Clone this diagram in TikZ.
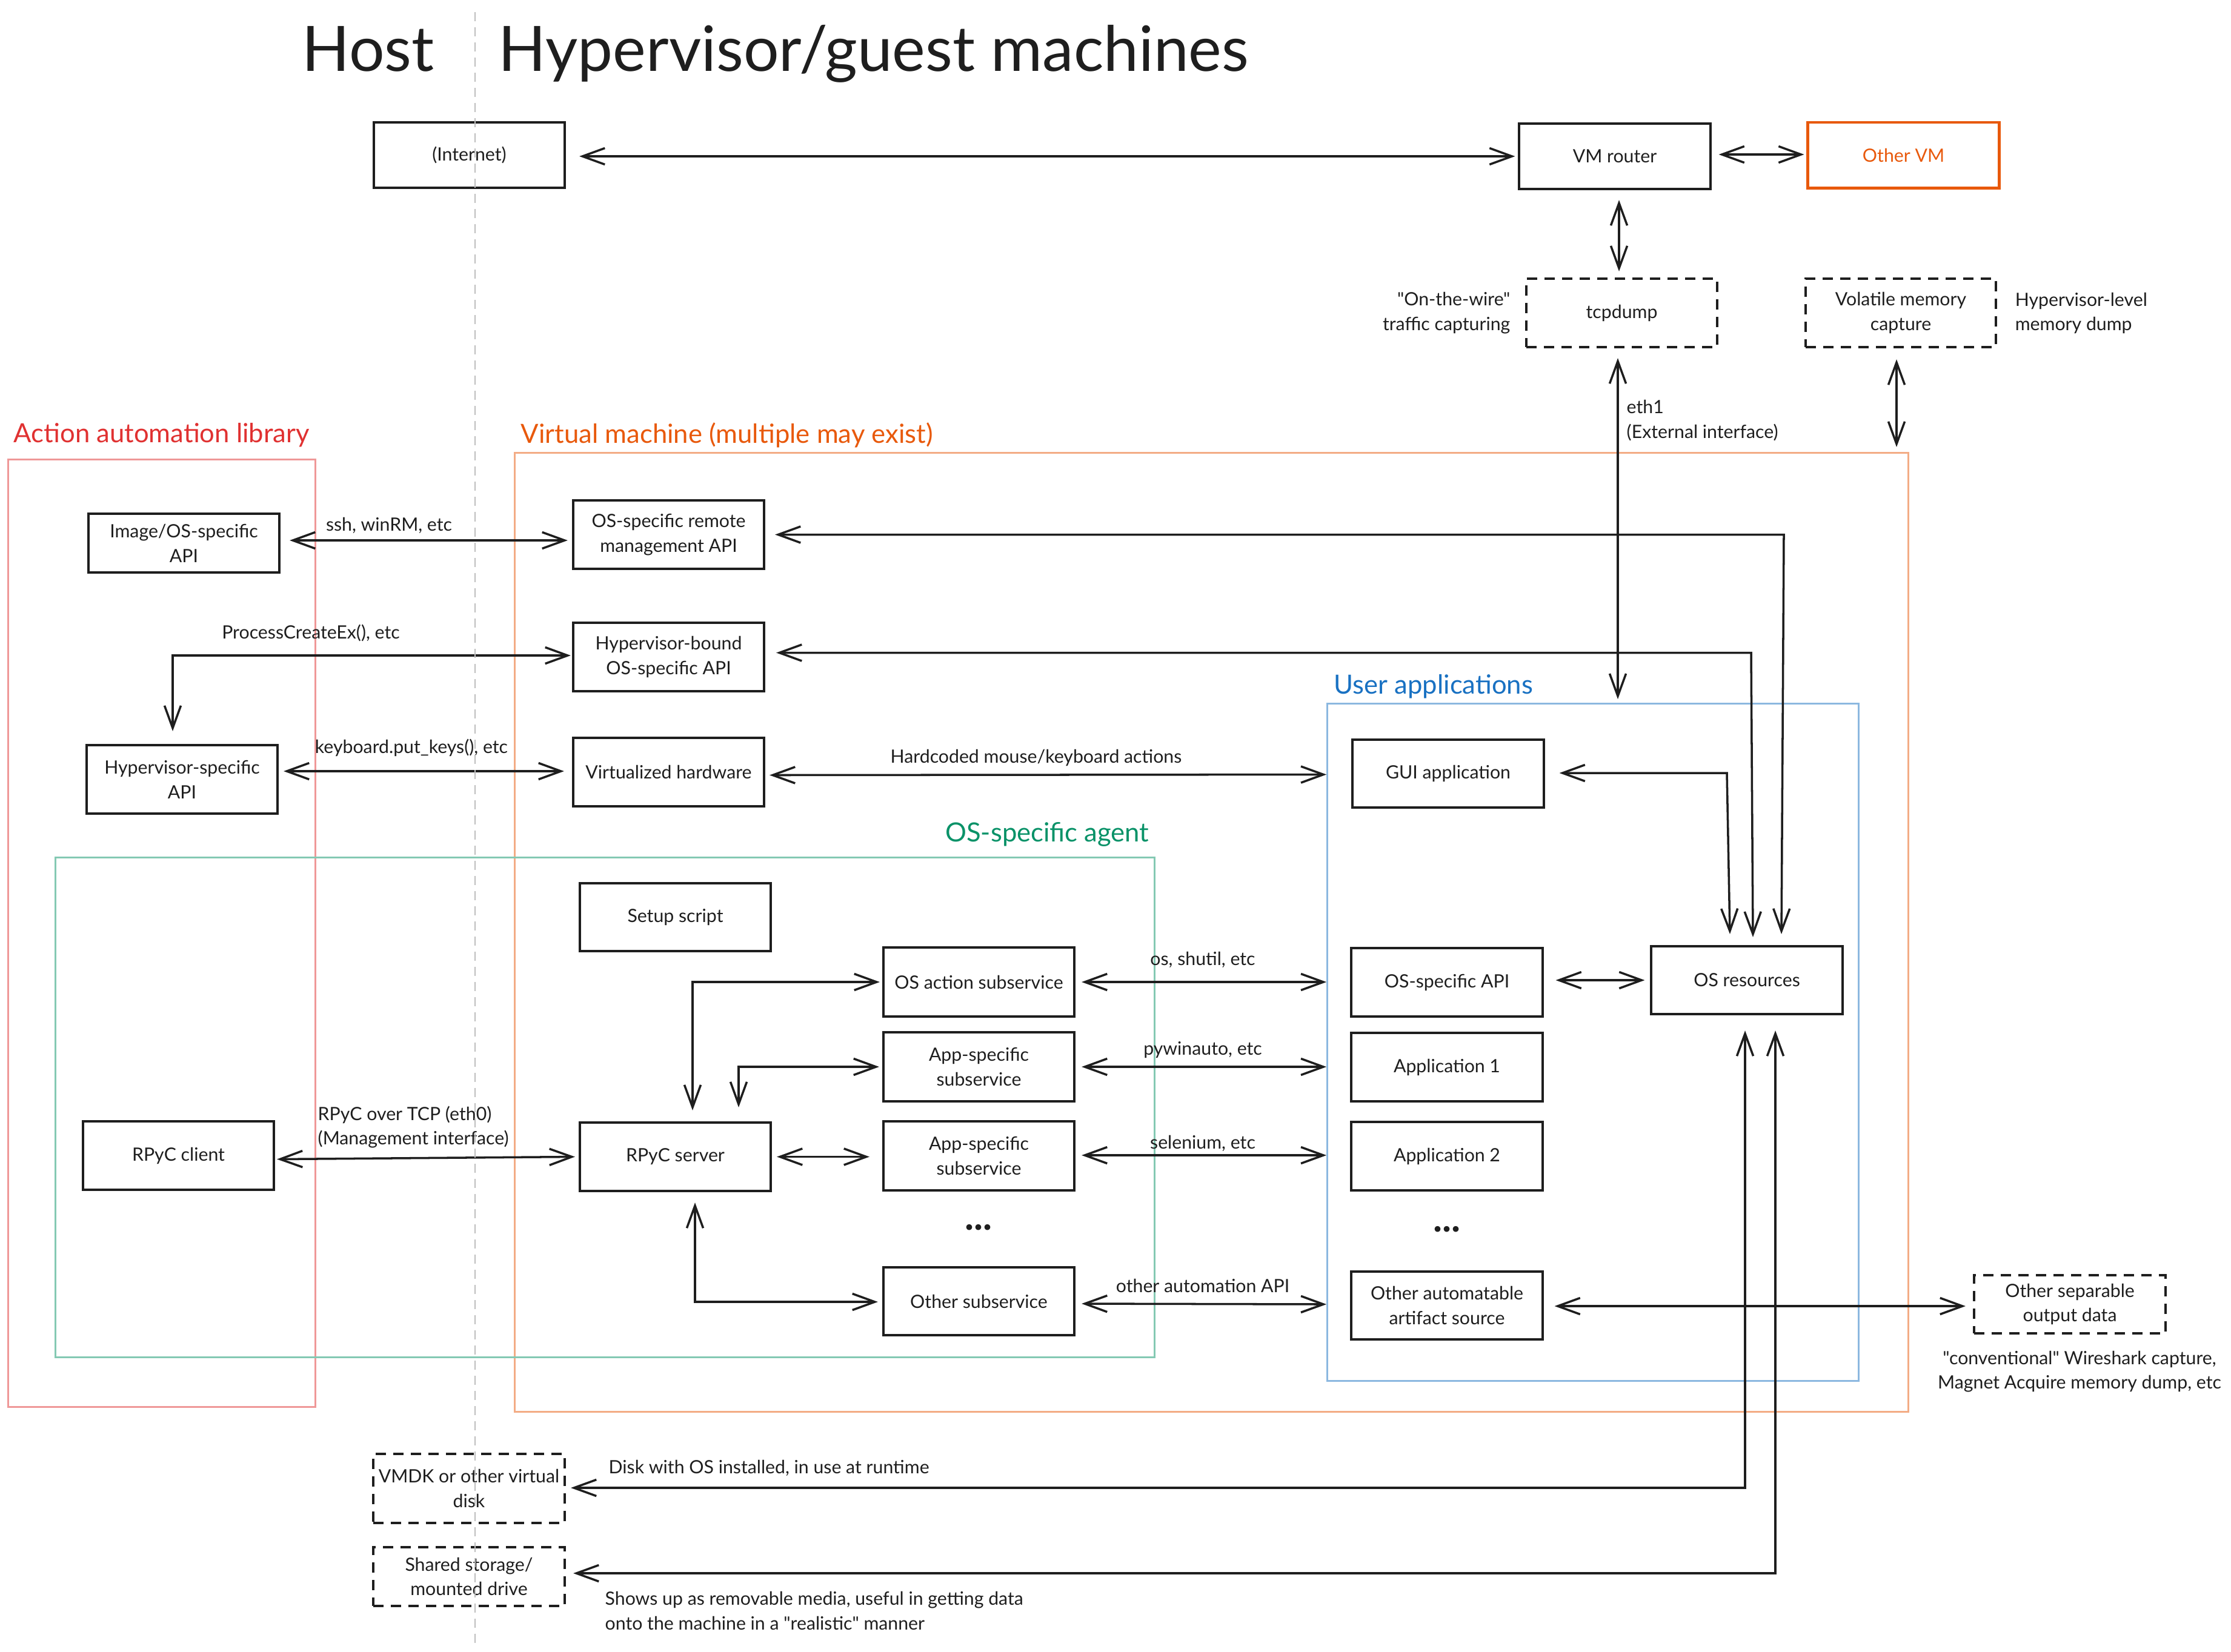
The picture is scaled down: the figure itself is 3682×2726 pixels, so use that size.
\documentclass[tikz,border=0pt]{standalone}
\usepackage{fontspec}
\setmainfont{Lato}[Ligatures=TeXOff]
\usetikzlibrary{arrows.meta,calc}
\definecolor{ink}{HTML}{1E1E1E}
\definecolor{cred}{HTML}{E03131}
\definecolor{corange}{HTML}{E8590C}
\definecolor{cblue}{HTML}{1971C2}
\definecolor{cgreen}{HTML}{099268}
\definecolor{cdivider}{HTML}{BDBDBD}
\newcommand\fbody{\fontsize{8.6pt}{11.6pt}\selectfont}
\newcommand\ftitle{\fontsize{12.4pt}{15pt}\selectfont}
\newcommand\fhead{\fontsize{29.4pt}{35pt}\selectfont}
\newcommand\fdots{\fontsize{18pt}{20pt}\selectfont\bfseries}
\tikzset{
  box/.style={draw=ink, line width=1.15pt, minimum width=3.15cm, minimum height=1.12cm, align=center, font=\fbody, text=ink, inner sep=0pt},
  dbox/.style={box, dash pattern=on 0.17cm off 0.12cm},
  note/.style={font=\fbody, text=ink, inner sep=0pt},
  ctitle/.style={font=\ftitle, inner sep=0pt},
  bi/.style={draw=ink, line width=1pt, {Straight Barb[length=0.37cm,width=0.27cm]}-{Straight Barb[length=0.37cm,width=0.27cm]}},
}
\begin{document}
\begin{tikzpicture}[x=0.01cm,y=-0.01cm]
\useasboundingbox (0,0) rectangle (3682,2726);

% containers
\node[draw=cred!50, line width=0.9pt, minimum width=5.06cm, minimum height=15.63cm, inner sep=0pt] (aal) at (267,1540.5) {};
\node[draw=corange!50, line width=0.9pt, minimum width=22.99cm, minimum height=15.82cm, inner sep=0pt] (vm) at (1999.5,1539) {};
\node[draw=cgreen!50, line width=0.9pt, minimum width=18.13cm, minimum height=8.24cm, inner sep=0pt] (agent) at (998.5,1828) {};
\node[draw=cblue!50, line width=0.9pt, minimum width=8.76cm, minimum height=11.17cm, inner sep=0pt] (uapps) at (2629,1720.5) {};

% container titles
\node[ctitle, text=cred, anchor=west] (taal) at (22,718) {Action automation library};
\node[ctitle, text=corange, anchor=west] (tvm) at (859,718) {Virtual machine (multiple may exist)};
\node[ctitle, text=cblue, anchor=west] (tuapps) at (2201,1133) {User applications};
\node[ctitle, text=cgreen, anchor=east] (tagent) at (1897,1377) {OS-specific agent};

% headings
\node[font=\fhead, text=ink, anchor=base west, inner sep=0pt] (host) at (498,117) {Host};
\node[font=\fhead, text=ink, anchor=base west, inner sep=0pt] (hyp) at (822,117) {Hypervisor/guest machines};

% top row
\node[box, minimum height=1.08cm] (internet) at (774.5,256) {(Internet)};
\node[box, minimum height=1.08cm] (vmr) at (2665,258) {VM router};
\node[box, minimum height=1.08cm, draw=corange, text=corange, line width=1.4pt] (othervm) at (3141.5,256) {Other VM};
\node[dbox, minimum height=1.13cm] (tcp) at (2676.5,516.5) {tcpdump};
\node[dbox, minimum height=1.13cm, minimum width=3.14cm] (vol) at (3137,516.5) {Volatile memory\\capture};
\node[note, anchor=east, align=right] (wire) at (2493,517) {"On-the-wire"\\traffic capturing};
\node[note, anchor=west, align=left] (hvl) at (3325,517) {Hypervisor-level\\memory dump};

% left column
\node[box, minimum height=0.97cm] (imgapi) at (303.5,896.5) {Image/OS-specific\\API};
\node[box, minimum height=1.13cm] (hvapi) at (300.5,1286.5) {Hypervisor-specific\\API};
\node[box, minimum height=1.13cm] (client) at (294.5,1907.5) {RPyC client};

% VM column
\node[box, minimum height=1.13cm] (remote) at (1103.5,882.5) {OS-specific remote\\management API};
\node[box, minimum height=1.13cm] (hvbound) at (1103.5,1084.5) {Hypervisor-bound\\OS-specific API};
\node[box, minimum height=1.13cm] (virthw) at (1103.5,1274.5) {Virtualized hardware};
\node[box, minimum height=1.12cm] (setup) at (1114.5,1514) {Setup script};
\node[box, minimum height=1.13cm] (server) at (1114.5,1909.5) {RPyC server};

% subservices
\node[box, minimum height=1.14cm] (osact) at (1615.5,1621) {OS action subservice};
\node[box, minimum height=1.14cm] (as1) at (1615.5,1761) {App-specific\\subservice};
\node[box, minimum height=1.14cm] (as2) at (1615.5,1908) {App-specific\\subservice};
\node[font=\fdots, text=ink, inner sep=0pt] (dots1) at (1615,2026) {...};
\node[box, minimum height=1.12cm] (othersub) at (1615.5,2148) {Other subservice};

% user applications
\node[box, minimum height=1.12cm] (gui) at (2390,1277) {GUI application};
\node[box, minimum height=1.13cm] (osapi) at (2388,1621.5) {OS-specific API};
\node[box, minimum height=1.13cm] (app1) at (2388,1761.5) {Application 1};
\node[box, minimum height=1.13cm] (app2) at (2388,1908.5) {Application 2};
\node[font=\fdots, text=ink, inner sep=0pt] (dots2) at (2388,2029) {...};
\node[box, minimum height=1.12cm] (otherart) at (2388,2155) {Other automatable\\artifact source};
\node[box, minimum height=1.12cm] (osres) at (2883,1618) {OS resources};
\node[dbox, minimum height=0.96cm, minimum width=3.16cm] (sepout) at (3416,2153) {Other separable\\output data};
\node[note, align=center] (conv) at (3432,2264) {"conventional" Wireshark capture,\\Magnet Acquire memory dump, etc};

% bottom storage
\node[dbox, minimum height=1.14cm, minimum width=3.16cm] (vmdk) at (774,2457) {VMDK or other virtual\\disk};
\node[dbox, minimum height=0.97cm, minimum width=3.16cm] (shared) at (774,2602.5) {Shared storage/\\mounted drive};

% connectors
\draw[bi] ($(internet.east)+(22,2)$) -- ($(vmr.west)+(-5,0)$);
\draw[bi] ($(vmr.east)+(12,-3)$) -- ($(othervm.west)+(-4,-1)$);
\draw[bi] ($(vmr.south)+(7,16)$) -- ($(tcp.north)+(-4.5,-10)$);
\draw[bi] ($(tcp.south)+(-6.5,16)$) -- ($(tcp.south |- uapps.north)+(-6.5,-6)$);
\node[note, anchor=west, align=left] (eth) at (2684,694) {eth1\\(External interface)};
\draw[bi] ($(vol.south)+(-7,18)$) -- ($(vol.south |- vm.north)+(-7,-8)$);

\draw[bi] ($(imgapi.east)+(15,-4.5)$) -- ($(imgapi.east -| remote.west)+(-7,-4.5)$);
\node[note] (lssh) at (642,867) {ssh, winRM, etc};
\draw[bi] ($(remote.east)+(16,0)$) -- (2944,882.5) -- ($(osres.north)+(57,-18)$);
\draw[bi] ($(hvbound.east)+(18,-7)$) -- (2890,1077.5) -- ($(osres.north)+(10,-13)$);
\draw[bi] ($(gui.east)+(24,-1)$) -- (2850,1276) -- ($(osres.north)+(-28,-18)$);
\draw[bi] ($(hvbound.west)+(-2,-2.5)$) -- (285,1082) -- ($(hvapi.north)+(-15.5,-21)$);
\node[note] (lproc) at (513,1045) {ProcessCreateEx(), etc};
\draw[bi] ($(hvapi.east)+(8,-13.5)$) -- ($(hvapi.east -| virthw.west)+(-13,-13.5)$);
\node[note] (lkey) at (679,1234) {keyboard.put\_keys(), etc};
\draw[bi] ($(virthw.east)+(7,5)$) -- ($(virthw.east -| uapps.west)+(0,4)$);
\node[note] (lhard) at (1710,1251) {Hardcoded mouse/keyboard actions};

\draw[bi] ($(osact.east)+(10,0)$) -- (osact.east -| uapps.west);
\node[note] (los) at (1985,1584) {os, shutil, etc};
\draw[bi] ($(as1.east)+(10,0)$) -- (as1.east -| uapps.west);
\node[note] (lpy) at (1985,1733) {pywinauto, etc};
\draw[bi] ($(as2.east)+(10,-1)$) -- ($(as2.east -| uapps.west)+(0,-1)$);
\node[note] (lsel) at (1985,1887) {selenium, etc};
\draw[bi] ($(othersub.east)+(10,4)$) -- ($(othersub.east -| uapps.west)+(0,5)$);
\node[note] (loth) at (1985,2122) {other automation API};
\draw[bi] ($(otherart.east)+(18,1)$) -- ($(sepout.west)+(-12,3)$);
\draw[bi] ($(osapi.east)+(20,-3.5)$) -- ($(osres.west)+(-9,0)$);

\draw[bi] ($(client.east)+(3,6)$) -- ($(server.west)+(-6,0)$);
\node[note, anchor=west, align=left] (lrpyc) at (524,1860.5) {RPyC over TCP (eth0)\\(Management interface)};
\draw[bi] ($(server.east)+(8,0)$) -- ($(server.east -| as2.west)+(-21,0)$);
\draw[bi] ($(server.north)+(28.5,-18)$) -- (1143,1621) -- ($(osact.west)+(-4,0)$);
\draw[bi] ($(server.north)+(104.5,-23)$) -- (1219,1761) -- ($(as1.west)+(-5,0)$);
\draw[bi] ($(server.south)+(32.5,17)$) -- (1147,2149) -- ($(othersub.west)+(-7,1)$);

\draw[bi] ($(osres.south)+(-3,25)$) -- (2880,2456) -- ($(vmdk.east)+(8,-1)$);
\node[note, anchor=west] (ldisk) at (1004,2423) {Disk with OS installed, in use at runtime};
\draw[bi] ($(osres.south)+(47,25)$) -- (2930,2597) -- ($(shared.east)+(12,-5.5)$);
\node[note, anchor=west, align=left] (lshow) at (998,2659) {Shows up as removable media, useful in getting data\\onto the machine in a "realistic" manner};

% divider
\draw[cdivider, line width=0.8pt, dash pattern=on 0.15cm off 0.1cm] (784,20) -- (784,2717);
\end{tikzpicture}
\end{document}
